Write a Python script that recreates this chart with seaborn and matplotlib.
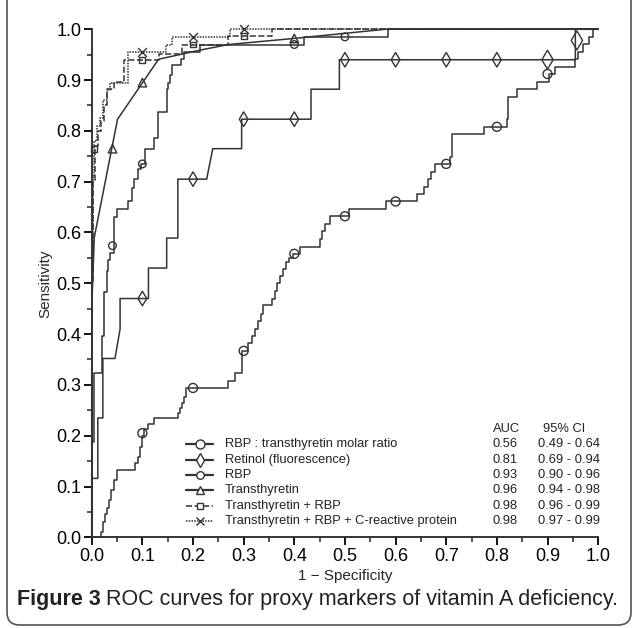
import numpy as np
import pandas as pd
import seaborn as sns
import matplotlib
matplotlib.use("Agg")
import matplotlib.pyplot as plt
from matplotlib.ticker import MultipleLocator, FormatStrFormatter
from matplotlib.lines import Line2D
from matplotlib.patches import FancyBboxPatch

# ---------------- data ----------------
# RBP : transthyretin molar ratio  (step curve, steps-post)
ratio_x = [0, 0.019, 0.022, 0.026, 0.030, 0.034, 0.038, 0.044, 0.050, 0.086, 0.091, 0.096,
           0.100, 0.104, 0.112, 0.122, 0.171, 0.175, 0.179, 0.183, 0.186, 0.270, 0.283, 0.296,
           0.309, 0.316, 0.322, 0.328, 0.334, 0.339, 0.355, 0.361, 0.366, 0.372, 0.378, 0.384,
           0.390, 0.398, 0.411, 0.450, 0.455, 0.461, 0.471, 0.509, 0.581, 0.642, 0.656, 0.664,
           0.670, 0.677, 0.708, 0.712, 0.775, 0.820, 0.822, 0.839, 0.879, 0.902, 0.915, 0.955,
           0.960, 0.971, 0.981, 0.989, 1.0]
ratio_y = [0, 0.011, 0.030, 0.045, 0.058, 0.073, 0.093, 0.113, 0.132, 0.146, 0.159, 0.178,
           0.200, 0.213, 0.223, 0.234, 0.244, 0.254, 0.265, 0.277, 0.294, 0.308, 0.323, 0.367,
           0.382, 0.397, 0.410, 0.425, 0.440, 0.457, 0.470, 0.485, 0.500, 0.515, 0.528, 0.542,
           0.550, 0.558, 0.572, 0.588, 0.603, 0.617, 0.632, 0.647, 0.661, 0.676, 0.690, 0.705,
           0.720, 0.735, 0.749, 0.794, 0.808, 0.823, 0.866, 0.882, 0.897, 0.912, 0.926, 0.941,
           0.956, 0.971, 0.985, 1.0, 1.0]
ratio_mx = [0.1, 0.2, 0.3, 0.4, 0.5, 0.6, 0.7, 0.8, 0.9]
ratio_my = [0.205, 0.294, 0.367, 0.558, 0.632, 0.661, 0.735, 0.808, 0.912]

# Retinol (fluorescence)  (polyline vertices)
ret_x = [0, 0, 0.012, 0.012, 0.022, 0.022, 0.046, 0.056, 0.056, 0.112, 0.112, 0.148, 0.148,
         0.170, 0.170, 0.227, 0.239, 0.296, 0.296, 0.433, 0.433, 0.489, 0.489, 0.955, 0.955, 1.0]
ret_y = [0, 0.116, 0.116, 0.235, 0.235, 0.352, 0.352, 0.410, 0.470, 0.470, 0.530, 0.530, 0.589,
         0.589, 0.705, 0.705, 0.765, 0.765, 0.823, 0.823, 0.882, 0.882, 0.940, 0.940, 1.0, 1.0]
ret_mx = [0.1, 0.2, 0.3, 0.4, 0.5, 0.6, 0.7, 0.8, 0.9, 0.958]
ret_my = [0.47, 0.705, 0.823, 0.823, 0.94, 0.94, 0.94, 0.94, 0.94, 0.978]

# RBP  (steps-post)
rbp_x = [0, 0, 0.005, 0.020, 0.025, 0.030, 0.033, 0.036, 0.043, 0.049, 0.072, 0.079, 0.084,
         0.092, 0.098, 0.105, 0.122, 0.130, 0.148, 0.150, 0.154, 0.159, 0.176, 0.183, 0.214,
         0.420, 0.586, 1.0]
rbp_y = [0, 0.188, 0.323, 0.396, 0.483, 0.525, 0.545, 0.559, 0.631, 0.646, 0.661, 0.687, 0.705,
         0.724, 0.735, 0.765, 0.785, 0.837, 0.883, 0.895, 0.909, 0.929, 0.941, 0.955, 0.970,
         0.985, 1.0, 1.0]
rbp_mx = [0.041, 0.1, 0.4, 0.5]
rbp_my = [0.574, 0.735, 0.970, 0.985]

# Transthyretin  (polyline vertices)
tt_x = [0, 0, 0.005, 0.051, 0.132, 0.214, 0.270, 0.400, 0.580, 1.0]
tt_y = [0, 0.45, 0.59, 0.823, 0.941, 0.959, 0.970, 0.982, 1.0, 1.0]
tt_mx = [0.041, 0.1, 0.4]
tt_my = [0.765, 0.895, 0.982]

# Transthyretin + RBP  (steps-post)
ttr_x = [0, 0, 0.003, 0.006, 0.012, 0.018, 0.025, 0.030, 0.043, 0.064, 0.133, 0.178, 0.270,
         0.355, 1.0]
ttr_y = [0, 0.50, 0.70, 0.77, 0.80, 0.82, 0.85, 0.883, 0.896, 0.940, 0.952, 0.970, 0.987,
         1.0, 1.0]
ttr_mx = [0.005, 0.1, 0.2, 0.3]
ttr_my = [0.765, 0.94, 0.97, 0.987]

# Transthyretin + RBP + C-reactive protein  (steps-post)
crp_x = [0, 0, 0.002, 0.005, 0.010, 0.016, 0.022, 0.030, 0.037, 0.071, 0.146, 0.159, 0.273, 1.0]
crp_y = [0, 0.55, 0.71, 0.78, 0.81, 0.825, 0.86, 0.88, 0.895, 0.955, 0.970, 0.985, 1.0, 1.0]
crp_mx = [0.1, 0.2, 0.3]
crp_my = [0.955, 0.985, 1.0]

labels = ["RBP : transthyretin molar ratio", "Retinol (fluorescence)", "RBP",
          "Transthyretin", "Transthyretin + RBP",
          "Transthyretin + RBP + C-reactive protein"]
auc = ["0.56", "0.81", "0.93", "0.96", "0.98", "0.98"]
ci = ["0.49 - 0.64", "0.69 - 0.94", "0.90 - 0.96", "0.94 - 0.98", "0.96 - 0.99", "0.97 - 0.99"]

# ---------------- style ----------------
sns.set_style("ticks")
plt.rcParams["font.family"] = ["Liberation Sans", "DejaVu Sans"]
plt.rcParams["axes.linewidth"] = 1.3

LC = "#333333"
fig = plt.figure(figsize=(6.37, 6.28), dpi=100)
ax = fig.add_axes([0.144, 0.1444, 0.795, 0.809])

series = [
    (ratio_x, ratio_y, "steps-post", "-", ratio_mx, ratio_my, "o", 42),
    (ret_x, ret_y, "default", "-", ret_mx, ret_my, "d", 55),
    (rbp_x, rbp_y, "steps-post", "-", rbp_mx, rbp_my, "o", 30),
    (tt_x, tt_y, "default", "-", tt_mx, tt_my, "^", 38),
    (ttr_x, ttr_y, "steps-post", (0, (4, 1.6)), ttr_mx, ttr_my, "s", 18),
    (crp_x, crp_y, "steps-post", (0, (1, 0.8)), crp_mx, crp_my, "x", 40),
]

for i, (xs, ys, ds, ls, mx, my, mk, ms) in enumerate(series):
    df = pd.DataFrame({"x": xs, "y": ys})
    sns.lineplot(data=df, x="x", y="y", sort=False, estimator=None, ax=ax,
                 color=LC, linewidth=1.1, drawstyle=ds, linestyle=ls, clip_on=False,
                 zorder=3)
    dm = pd.DataFrame({"x": mx, "y": my})
    if mk == "x":
        sns.scatterplot(data=dm, x="x", y="y", marker=mk, s=ms, color=LC,
                        linewidth=1.0, ax=ax, clip_on=False, zorder=4)
    else:
        sizes = [ms] * len(mx)
        if mk == "d":
            sizes = [ms] * (len(mx) - 2) + [ms * 1.7, ms * 1.7]
        sns.scatterplot(data=dm, x="x", y="y", marker=mk, s=sizes, facecolors="none",
                        edgecolor=LC, linewidth=1.0, ax=ax, clip_on=False, zorder=4)

ax.set_xlim(0, 1)
ax.set_ylim(0, 1)
ax.xaxis.set_major_locator(MultipleLocator(0.1))
ax.xaxis.set_minor_locator(MultipleLocator(0.05))
ax.yaxis.set_major_locator(MultipleLocator(0.1))
ax.yaxis.set_minor_locator(MultipleLocator(0.05))
ax.xaxis.set_major_formatter(FormatStrFormatter("%.1f"))
ax.yaxis.set_major_formatter(FormatStrFormatter("%.1f"))
ax.tick_params(which="major", direction="out", length=6, width=1.3, labelsize=13,
               colors="black")
ax.tick_params(axis="x", which="major", pad=2)
ax.tick_params(axis="y", which="major", pad=1.5)
ax.tick_params(which="minor", direction="out", length=3.5, width=1.1)
sns.despine(ax=ax)
ax.set_xlabel("1 \u2212 Specificity", fontsize=11, labelpad=2.5)
ax.set_ylabel("Sensitivity", fontsize=11, labelpad=3)

# ---------------- legend table ----------------
rows_y = [0.183, 0.152, 0.122, 0.093, 0.061, 0.032]
fs = 9.3
TC = "#222222"
ax.text(0.792, 0.213, "AUC", transform=ax.transAxes, fontsize=fs, va="center", color=TC)
ax.text(0.932, 0.213, "95% CI", transform=ax.transAxes, fontsize=fs, va="center",
        ha="center", color=TC)
for i, (xs, ys, ds, ls, mx, my, mk, ms) in enumerate(series):
    yy = rows_y[i]
    lw = 1.6 if i < 4 else 1.1
    ax.add_line(Line2D([0.186, 0.240], [yy, yy], transform=ax.transAxes, color=LC,
                       linewidth=lw, linestyle=ls))
    if mk == "x":
        ax.add_line(Line2D([0.213], [yy], transform=ax.transAxes, marker=mk,
                           markersize=6, color=LC, markeredgewidth=1.0))
    else:
        ax.add_line(Line2D([0.213], [yy], transform=ax.transAxes, marker=mk,
                           markersize=np.sqrt(ms), markerfacecolor="white",
                           markeredgecolor=LC, markeredgewidth=1.0, color=LC))
    ax.text(0.263, yy, labels[i], transform=ax.transAxes, fontsize=fs, va="center", color=TC)
    ax.text(0.792, yy, auc[i], transform=ax.transAxes, fontsize=fs, va="center", color=TC)
    ax.text(0.881, yy, ci[i], transform=ax.transAxes, fontsize=fs, va="center", color=TC)

# ---------------- caption & frame ----------------
box = FancyBboxPatch((7 / 637, 3 / 628), 624 / 637, 640 / 628,
                     boxstyle="round,pad=0,rounding_size=0.02",
                     transform=fig.transFigure, facecolor="none", edgecolor="#555555",
                     linewidth=1.2)
fig.patches.append(box)

cap_fam = ["Liberation Sans", "DejaVu Sans"]
t1 = fig.text(17 / 637, 1 - 600 / 628, "Figure 3", fontsize=15.5, fontweight="bold",
              va="center", ha="left", family=cap_fam, color=TC)
fig.canvas.draw()
r = fig.canvas.get_renderer()
bb = t1.get_window_extent(r)
fig.text((bb.x1 + 5) / 637, 1 - 600 / 628,
         "ROC curves for proxy markers of vitamin A deficiency.",
         fontsize=15.5, va="center", ha="left", family=cap_fam, color=TC)

fig.savefig("out.png", dpi=100)
